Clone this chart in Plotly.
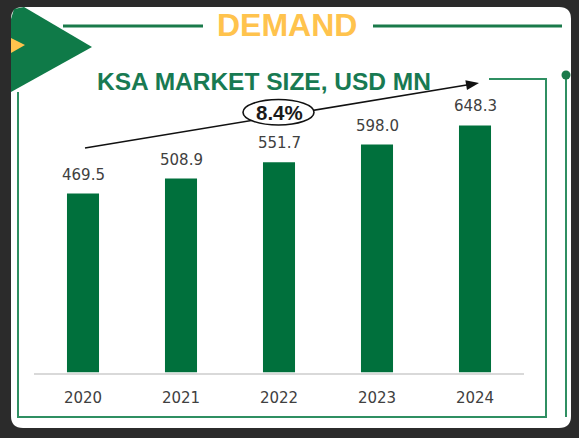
import plotly.graph_objects as go

years=['2020','2021','2022','2023','2024']
market_size=[469.5,508.9,551.7,598.0,648.3]
value_labels=['469.5','508.9','551.7','598.0','648.3']

W=579
H=438

def px(x):
    return x/W

def py(y):
    return 1-y/H

def path(points,close=True):
    s='M '+' L '.join('%.5f,%.5f'%(px(x),py(y)) for x,y in points)
    if close:
        s+=' Z'
    return s

def rounded_rect(x0,y0,x1,y1,r):
    p='M %.5f,%.5f'%(px(x0+r),py(y0))
    p+=' L %.5f,%.5f'%(px(x1-r),py(y0))
    p+=' Q %.5f,%.5f %.5f,%.5f'%(px(x1),py(y0),px(x1),py(y0+r))
    p+=' L %.5f,%.5f'%(px(x1),py(y1-r))
    p+=' Q %.5f,%.5f %.5f,%.5f'%(px(x1),py(y1),px(x1-r),py(y1))
    p+=' L %.5f,%.5f'%(px(x0+r),py(y1))
    p+=' Q %.5f,%.5f %.5f,%.5f'%(px(x0),py(y1),px(x0),py(y1-r))
    p+=' L %.5f,%.5f'%(px(x0),py(y0+r))
    p+=' Q %.5f,%.5f %.5f,%.5f Z'%(px(x0),py(y0),px(x0+r),py(y0))
    return p

cagr=(market_size[-1]/market_size[0])**(1/(len(years)-1))-1

fig=go.Figure()
fig.add_trace(go.Bar(x=years,y=market_size,marker_color='#00703c',marker_line_width=0,hoverinfo='skip'))

green='#1a7a4a'
frame_green='#2f8f62'
shapes=[]
# white card + decorations
shapes.append(dict(type='path',path=rounded_rect(11,7,571,428,12),fillcolor='white',line_width=0,layer='below',xref='paper',yref='paper'))
shapes.append(dict(type='path',path=path([(11,19),(14,9),(24,7),(92,47),(11,92)]),fillcolor='#0f7a48',line_width=0,layer='below',xref='paper',yref='paper'))
shapes.append(dict(type='path',path=path([(11,38),(25,45),(11,53)]),fillcolor='#ffc34d',line_width=0,layer='below',xref='paper',yref='paper'))
shapes.append(dict(type='line',x0=px(63),y0=py(26),x1=px(203),y1=py(26),line=dict(color=green,width=3),layer='below',xref='paper',yref='paper'))
shapes.append(dict(type='line',x0=px(373),y0=py(26),x1=px(562),y1=py(26),line=dict(color=green,width=3),layer='below',xref='paper',yref='paper'))
shapes.append(dict(type='path',path=path([(489,79),(546,79),(546,417),(18,417),(18,92)],close=False),line=dict(color=frame_green,width=2),layer='below',xref='paper',yref='paper'))
shapes.append(dict(type='line',x0=px(566),y0=py(75),x1=px(566),y1=py(417),line=dict(color=frame_green,width=2),layer='below',xref='paper',yref='paper'))
shapes.append(dict(type='circle',x0=px(561.5),y0=py(79.5),x1=px(570.5),y1=py(70.5),fillcolor=green,line_width=0,layer='below',xref='paper',yref='paper'))

# growth arrow
tail=(85,148)
tip=(479,83)
dx=tip[0]-tail[0]
dy=tip[1]-tail[1]
L=(dx**2+dy**2)**0.5
ux,uy=dx/L,dy/L
hl,hw=13,5
bx,by=tip[0]-ux*hl,tip[1]-uy*hl
shapes.append(dict(type='line',x0=px(tail[0]),y0=py(tail[1]),x1=px(bx+ux*2),y1=py(by+uy*2),line=dict(color='#111111',width=1.6),layer='above',xref='paper',yref='paper'))
shapes.append(dict(type='path',path=path([tip,(bx-uy*hw,by+ux*hw),(bx+uy*hw,by-ux*hw)]),fillcolor='#111111',line_width=0,layer='above',xref='paper',yref='paper'))
shapes.append(dict(type='circle',x0=px(243),y0=py(125),x1=px(314),y1=py(99.5),fillcolor='white',line=dict(color='#111111',width=1.6),layer='above',xref='paper',yref='paper'))

annotations=[]
annotations.append(dict(text='DEMAND',x=px(287),y=py(25),xref='paper',yref='paper',xanchor='center',yanchor='middle',showarrow=False,
                        font=dict(family='Liberation Sans',size=32,color='#ffc34d',weight='bold')))
annotations.append(dict(text='KSA MARKET SIZE, USD MN',x=px(264),y=py(82),xref='paper',yref='paper',xanchor='center',yanchor='middle',showarrow=False,
                        font=dict(family='Liberation Sans',size=24.5,color='#187a52',weight='bold')))
annotations.append(dict(text='%.1f%%'%(cagr*100),x=px(279),y=py(112.5),xref='paper',yref='paper',xanchor='center',yanchor='middle',showarrow=False,
                        font=dict(family='Liberation Sans',size=20.5,color='#1a1a1a',weight='bold')))
for i,(v,lab) in enumerate(zip(market_size,value_labels)):
    annotations.append(dict(text=lab,x=i,y=v,xref='x',yref='y',yshift=19,xanchor='center',yanchor='middle',showarrow=False,
                            font=dict(family='DejaVu Sans',size=15,color='#404040')))

fig.update_layout(
    width=W,height=H,
    margin=dict(l=0,r=0,t=0,b=0,pad=0),
    paper_bgcolor='#2b2b2b',
    plot_bgcolor='rgba(0,0,0,0)',
    showlegend=False,
    bargap=0.673,
    shapes=shapes,
    annotations=annotations,
    xaxis=dict(type='category',categoryorder='array',categoryarray=years,range=[-0.5,len(years)-0.5],
               domain=[px(34),px(524)],automargin=False,showgrid=False,zeroline=False,showline=True,
               linecolor='#d9d9d9',linewidth=1.5,ticks='',ticklabelstandoff=11,
               tickfont=dict(family='DejaVu Sans',size=15,color='#404040'),fixedrange=True),
    yaxis=dict(domain=[py(372.5),py(100)],range=[0,715],visible=False,automargin=False,fixedrange=True),
)

# page body has a default 8px margin, drop it so the card sits like the reference
fig.write_html("out.html",config={'displayModeBar':False},
               post_script="document.body.style.margin='0';document.body.style.background='#2b2b2b';")
